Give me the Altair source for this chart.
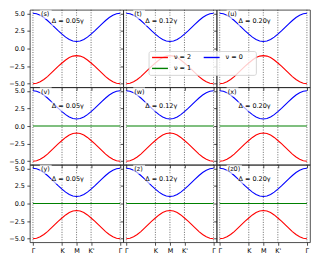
import json
import altair as alt
import pandas as pd

# ---- data ----
PATH_POS = [0, 1, 2, 3, 4, 5, 6, 7, 8, 9, 10, 11, 12, 13, 14, 15, 16, 17, 18, 19, 20, 21, 22, 23, 24]
NU0_BAND = [5.00, 4.93, 4.72, 4.40, 3.98, 3.50, 3.00, 2.50, 2.05, 1.62, 1.28, 1.07, 1.00,
            1.07, 1.28, 1.62, 2.05, 2.50, 3.00, 3.50, 3.98, 4.40, 4.72, 4.93, 5.00]
NU2_BAND = [-5.00, -4.93, -4.72, -4.40, -3.98, -3.50, -3.00, -2.50, -2.05, -1.62, -1.28, -1.07, -1.00,
            -1.07, -1.28, -1.62, -2.05, -2.50, -3.00, -3.50, -3.98, -4.40, -4.72, -4.93, -5.00]
NU1_BAND = [0.0, 0.0, 0.0, 0.0, 0.0, 0.0, 0.0, 0.0, 0.0, 0.0, 0.0, 0.0, 0.0,
            0.0, 0.0, 0.0, 0.0, 0.0, 0.0, 0.0, 0.0, 0.0, 0.0, 0.0, 0.0]

TICK_POS = [0, 8, 12, 16, 24]
TICK_LABELS = ["Γ", "K", "M", "K'", "Γ"]
Y_TICKS = [-5.0, -2.5, 0.0, 2.5, 5.0]
DELTAS = ["0.05", "0.12", "0.20"]
PANEL_TAGS = [["(s)", "(t)", "(u)"], ["(v)", "(w)", "(x)"], ["(y)", "(z)", "(z0)"]]
HAS_NU1 = [False, True, True]
DELTA_Y = [3.95, 2.8, 3.5]
SERIES = ["ν = 2", "ν = 1", "ν = 0"]
SERIES_COLORS = ["#ff0000", "#008000", "#0000ff"]

FONT = "DejaVu Sans"
FS = 6.5
W, H = 94, 78

label_expr = ""
for p, lab in zip(TICK_POS, TICK_LABELS):
    label_expr += f"datum.value == {p} ? {json.dumps(lab)} : "
label_expr += "''"

xscale = alt.Scale(domain=[-0.85, 24.85], nice=False, zero=False)
yscale = alt.Scale(domain=[-5.5, 5.5], nice=False, zero=False)
cscale = alt.Scale(domain=SERIES, range=SERIES_COLORS)


def xenc(field, r):
    return alt.X(field, type="quantitative", scale=xscale, title=None,
                 axis=alt.Axis(values=TICK_POS, labelExpr=label_expr, labels=(r == 2),
                               ticks=True, tickSize=3, labelPadding=2, grid=False, domain=False,
                               labelFlush=False, labelOverlap=False, labelFont=FONT,
                               labelFontSize=FS, labelColor="black", tickColor="#222",
                               tickWidth=0.8))


def yenc(field, c):
    return alt.Y(field, type="quantitative", scale=yscale, title=None,
                 axis=alt.Axis(values=Y_TICKS, format=".1f", labels=(c == 0),
                               ticks=True, tickSize=3, labelPadding=2.5, grid=False, domain=False,
                               labelFlush=False, labelOverlap=False, labelFont=FONT,
                               labelFontSize=FS, labelColor="black", tickColor="#222",
                               tickWidth=0.8))


def panel(r, c):
    vdf = pd.DataFrame({"x": TICK_POS})
    vlines = alt.Chart(vdf).mark_rule(color="#222222", strokeDash=[1, 1.5], strokeWidth=0.8,
                                      opacity=0.85).encode(x=xenc("x", r))

    rows = []
    bands = [("ν = 2", NU2_BAND)]
    if HAS_NU1[r]:
        bands.append(("ν = 1", NU1_BAND))
    bands.append(("ν = 0", NU0_BAND))
    for order, (name, vals) in enumerate(bands):
        for xv, yv in zip(PATH_POS, vals):
            rows.append({"x": xv, "y": yv, "s": name, "o": order})
    bdf = pd.DataFrame(rows)
    lines = alt.Chart(bdf).mark_line(strokeWidth=1.1).encode(
        x=xenc("x", r), y=yenc("y", c),
        color=alt.Color("s:N", scale=cscale, legend=None),
        detail="o:O")

    tag = PANEL_TAGS[r][c]
    dy = DELTA_Y[r]
    boxes = pd.DataFrame({
        "x0": [5.1, 1.9],
        "x1": [14.1, 2.3 + 0.95 * len(tag)],
        "y0": [dy - 0.7, 4.85 - 0.65],
        "y1": [dy + 0.7, 4.85 + 0.65],
    })
    bx = alt.Chart(boxes).mark_rect(color="white", opacity=0.65).encode(
        x=xenc("x0", r), x2="x1", y=yenc("y0", c), y2="y1")

    tdf = pd.DataFrame({"x": [9.6, 2.2], "y": [dy, 4.85],
                        "t": [f"Δ = {DELTAS[c]}γ", tag], "a": ["center", "left"]})
    t1 = alt.Chart(tdf.iloc[[0]]).mark_text(font=FONT, fontSize=FS, align="center",
                                            baseline="middle", color="black").encode(
        x=xenc("x", r), y=yenc("y", c), text="t:N")
    t2 = alt.Chart(tdf.iloc[[1]]).mark_text(font=FONT, fontSize=FS, align="left",
                                            baseline="middle", color="black").encode(
        x=xenc("x", r), y=yenc("y", c), text="t:N")

    layers = [vlines, lines, bx, t1, t2]

    if r == 0 and c == 2:
        one = pd.DataFrame({"a": [0]})
        layers.append(alt.Chart(one).mark_rect(fill="white", fillOpacity=0.8, stroke="#cccccc",
                                               strokeWidth=0.8, cornerRadius=2).encode(
            x=alt.value(-68), x2=alt.value(40), y=alt.value(42), y2=alt.value(66)))
        entries = [("ν = 2", -65, 48), ("ν = 1", -65, 59), ("ν = 0", -13, 48)]
        for name, lx, ly in entries:
            col = SERIES_COLORS[SERIES.index(name)]
            layers.append(alt.Chart(one).mark_rule(color=col, strokeWidth=1.4).encode(
                x=alt.value(lx), x2=alt.value(lx + 16), y=alt.value(ly)))
            layers.append(alt.Chart(one).mark_text(font=FONT, fontSize=FS, align="left",
                                                   baseline="middle", color="black").encode(
                x=alt.value(lx + 22), y=alt.value(ly), text=alt.value(name)))

    return alt.layer(*layers).properties(width=W, height=H)


panels = [panel(r, c) for r in range(3) for c in range(3)]
chart = alt.concat(*panels, columns=3, spacing={"row": 0, "column": 0}, bounds="flush").properties(
    padding=0
).configure(font=FONT).configure_view(stroke="#222", strokeWidth=0.8)

chart.save("out.html", embed_options={"renderer": "svg", "actions": False})
